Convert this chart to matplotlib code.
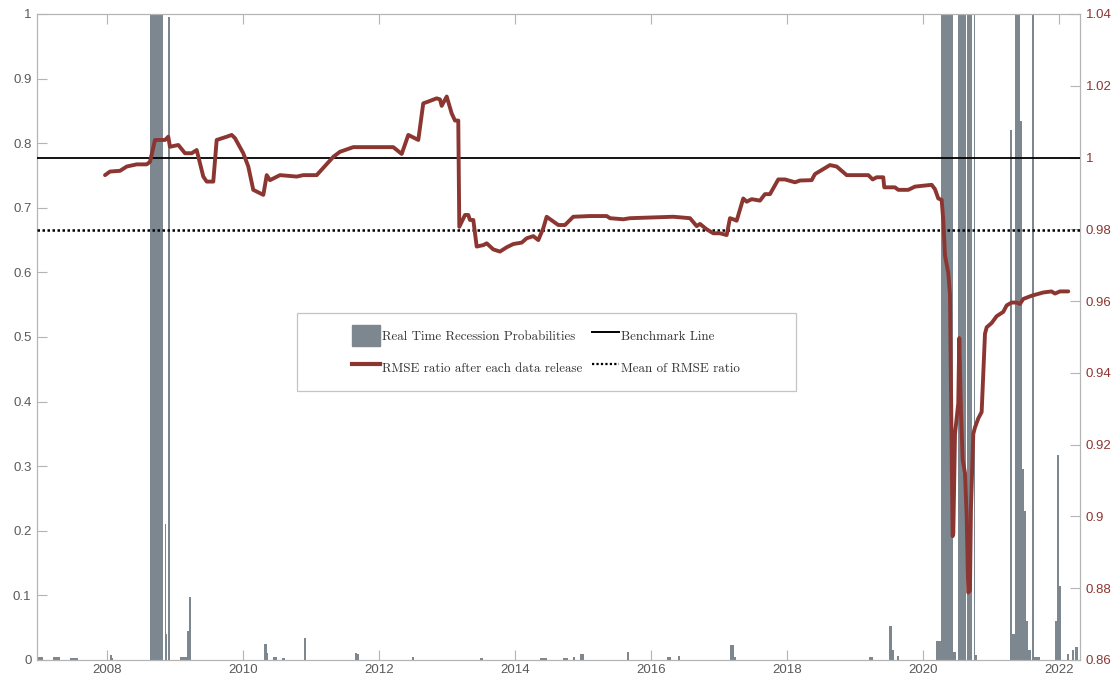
import matplotlib
matplotlib.use("Agg")
import matplotlib.pyplot as plt
from matplotlib.patches import Patch, Rectangle
from matplotlib.lines import Line2D
import numpy as np

# Real-time recession probabilities: each entry covers [start, end) with one probability
rec_start = [2006.97, 2007.20, 2007.46, 2008.05, 2008.07, 2008.63, 2008.77, 2008.85, 2008.87, 2008.89,
             2009.08, 2009.13, 2009.18, 2009.20, 2010.31, 2010.35, 2010.44, 2010.57, 2010.90, 2011.65,
             2011.68, 2012.48, 2013.49, 2014.37, 2014.71, 2014.85, 2014.96, 2015.65, 2016.24, 2016.40,
             2017.16, 2017.22, 2019.21, 2019.50, 2019.54, 2019.62, 2020.19, 2020.26, 2020.44, 2020.51,
             2020.65, 2020.745, 2020.77, 2021.28, 2021.31, 2021.35, 2021.39, 2021.43, 2021.46, 2021.49,
             2021.51, 2021.54, 2021.60, 2021.64, 2021.94, 2021.97, 2022.00, 2022.12, 2022.19, 2022.24]
rec_end = [2007.06, 2007.31, 2007.57, 2008.07, 2008.09, 2008.76, 2008.83, 2008.87, 2008.88, 2008.92,
           2009.13, 2009.18, 2009.20, 2009.23, 2010.35, 2010.37, 2010.50, 2010.62, 2010.93, 2011.68,
           2011.71, 2012.52, 2013.53, 2014.47, 2014.78, 2014.88, 2015.01, 2015.68, 2016.29, 2016.43,
           2017.22, 2017.25, 2019.26, 2019.54, 2019.57, 2019.65, 2020.26, 2020.44, 2020.49, 2020.64,
           2020.72, 2020.765, 2020.80, 2021.31, 2021.35, 2021.385, 2021.42, 2021.46, 2021.49, 2021.51,
           2021.54, 2021.59, 2021.63, 2021.72, 2021.97, 2022.00, 2022.03, 2022.15, 2022.22, 2022.28]
rec_prob = [0.005, 0.004, 0.003, 0.007, 0.003, 1.0, 1.0, 0.21, 0.04, 0.995,
            0.005, 0.004, 0.045, 0.098, 0.025, 0.011, 0.004, 0.003, 0.034, 0.011,
            0.009, 0.004, 0.003, 0.003, 0.003, 0.005, 0.009, 0.013, 0.004, 0.006,
            0.023, 0.005, 0.004, 0.053, 0.016, 0.006, 0.03, 1.0, 0.012, 1.0,
            1.0, 1.0, 0.008, 0.82, 0.04, 1.0, 1.0, 0.835, 0.295, 0.23,
            0.06, 0.015, 1.0, 0.005, 0.06, 0.317, 0.114, 0.01, 0.015, 0.02]

# RMSE ratio after each data release
rmse_date = [2007.971, 2008.044, 2008.191, 2008.290, 2008.437, 2008.584, 2008.632, 2008.706, 2008.804, 2008.853,
             2008.901, 2008.926, 2009.049, 2009.147, 2009.246, 2009.319, 2009.368, 2009.416, 2009.466, 2009.563,
             2009.613, 2009.760, 2009.834, 2009.882, 2010.004, 2010.078, 2010.151, 2010.299, 2010.349, 2010.397,
             2010.544, 2010.790, 2010.887, 2011.084, 2011.328, 2011.426, 2011.622, 2012.210, 2012.334, 2012.431,
             2012.578, 2012.651, 2012.725, 2012.849, 2012.897, 2012.922, 2012.996, 2013.069, 2013.118, 2013.166,
             2013.181, 2013.265, 2013.313, 2013.338, 2013.387, 2013.437, 2013.534, 2013.584, 2013.681, 2013.779,
             2013.878, 2013.975, 2014.099, 2014.172, 2014.269, 2014.343, 2014.416, 2014.466, 2014.637, 2014.735,
             2014.857, 2015.103, 2015.349, 2015.397, 2015.593, 2015.691, 2016.328, 2016.574, 2016.672, 2016.721,
             2016.819, 2016.916, 2017.015, 2017.113, 2017.162, 2017.210, 2017.260, 2017.357, 2017.407, 2017.481,
             2017.603, 2017.676, 2017.750, 2017.872, 2017.971, 2018.118, 2018.191, 2018.363, 2018.412, 2018.510,
             2018.632, 2018.731, 2018.878, 2019.196, 2019.260, 2019.319, 2019.416, 2019.431, 2019.588, 2019.637,
             2019.784, 2019.882, 2020.128, 2020.176, 2020.225, 2020.275, 2020.299, 2020.324, 2020.372, 2020.397,
             2020.436, 2020.446, 2020.471, 2020.519, 2020.534, 2020.559, 2020.584, 2020.618, 2020.643, 2020.666,
             2020.691, 2020.706, 2020.740, 2020.765, 2020.813, 2020.863, 2020.912, 2020.937, 2021.010, 2021.084,
             2021.181, 2021.231, 2021.304, 2021.378, 2021.426, 2021.475, 2021.599, 2021.769, 2021.891, 2021.941,
             2022.015, 2022.137]
rmse_ratio = [0.9951, 0.9961, 0.9963, 0.9975, 0.9981, 0.9981, 0.9988, 1.0049, 1.0049, 1.0049,
              1.0058, 1.0030, 1.0035, 1.0012, 1.0012, 1.0021, 0.9984, 0.9947, 0.9933, 0.9933,
              1.0049, 1.0058, 1.0063, 1.0054, 1.0012, 0.9975, 0.9910, 0.9896, 0.9951, 0.9937,
              0.9951, 0.9947, 0.9951, 0.9951, 1.0002, 1.0016, 1.0029, 1.0029, 1.0010, 1.0063,
              1.0049, 1.0151, 1.0156, 1.0165, 1.0162, 1.0144, 1.0170, 1.0123, 1.0103, 1.0103,
              0.9807, 0.9840, 0.9840, 0.9826, 0.9826, 0.9752, 0.9756, 0.9761, 0.9744, 0.9738,
              0.9750, 0.9759, 0.9763, 0.9775, 0.9781, 0.9770, 0.9803, 0.9835, 0.9812, 0.9812,
              0.9835, 0.9837, 0.9837, 0.9831, 0.9828, 0.9831, 0.9835, 0.9831, 0.9809, 0.9815,
              0.9800, 0.9789, 0.9789, 0.9784, 0.9831, 0.9828, 0.9824, 0.9886, 0.9877, 0.9884,
              0.9880, 0.9898, 0.9898, 0.9939, 0.9939, 0.9931, 0.9936, 0.9937, 0.9954, 0.9965,
              0.9979, 0.9975, 0.9951, 0.9951, 0.9939, 0.9945, 0.9945, 0.9917, 0.9917, 0.9910,
              0.9910, 0.9919, 0.9924, 0.9912, 0.9886, 0.9882, 0.9824, 0.9727, 0.9679, 0.9618,
              0.8945, 0.8952, 0.9230, 0.9315, 0.9497, 0.9291, 0.9158, 0.9121, 0.9000, 0.8788,
              0.8794, 0.9024, 0.9230, 0.9248, 0.9273, 0.9291, 0.9509, 0.9527, 0.9539, 0.9558,
              0.9570, 0.9588, 0.9596, 0.9596, 0.9592, 0.9606, 0.9615, 0.9624, 0.9627, 0.9621,
              0.9627, 0.9627]

benchmark = 1.0
mean_rmse = 0.9798

year_ticks = [2008, 2010, 2012, 2014, 2016, 2018, 2020, 2022]
left_ticks = [0, 0.1, 0.2, 0.3, 0.4, 0.5, 0.6, 0.7, 0.8, 0.9, 1]
right_ticks = [0.86, 0.88, 0.9, 0.92, 0.94, 0.96, 0.98, 1, 1.02, 1.04]

legend_labels = ["Real Time Recession Probabilities", "RMSE ratio after each data release",
                 "Benchmark Line", "Mean of RMSE ratio"]

BAR = "#7d8790"
RED = "#8c3632"
AXC = "#b4b4b4"
TXT = "#5a5a5a"

plt.rcParams["font.family"] = ["Liberation Sans", "DejaVu Sans"]

fig = plt.figure(figsize=(11.12, 6.79), dpi=100)
ax = fig.add_axes([0.0333, 0.028, 0.9379, 0.9514])

starts = np.array(rec_start)
ends = np.array(rec_end)
ax.bar(starts, rec_prob, width=ends - starts, align="edge", color=BAR, linewidth=0, zorder=2)

ax.set_xlim(2006.971, 2022.309)
ax.set_ylim(0, 1)
ax.set_xticks(year_ticks)
ax.set_xticklabels([str(y) for y in year_ticks])
ax.set_yticks(left_ticks)
ax.set_yticklabels(["0", "0.1", "0.2", "0.3", "0.4", "0.5", "0.6", "0.7", "0.8", "0.9", "1"])
ax.tick_params(axis="both", direction="in", length=7, width=0.8, color=AXC,
               labelsize=9.5, labelcolor=TXT, top=True, pad=4)
ax.tick_params(axis="x", pad=3)
for s in ax.spines.values():
    s.set_color(AXC)
    s.set_linewidth(0.8)

ax2 = ax.twinx()
ax2.set_ylim(0.86, 1.04)
ax2.set_yticks(right_ticks)
ax2.set_yticklabels(["0.86", "0.88", "0.9", "0.92", "0.94", "0.96", "0.98", "1", "1.02", "1.04"])
ax2.tick_params(axis="y", direction="in", length=7, width=0.8, color=AXC,
                labelsize=9.5, labelcolor=RED, pad=4)
for s in ax2.spines.values():
    s.set_color(AXC)
    s.set_linewidth(0.8)

ax2.axhline(benchmark, color="black", linewidth=1.3, zorder=3)
ax2.axhline(mean_rmse, color="black", linewidth=1.8, linestyle=(0, (1, 1)), zorder=3)
ax2.plot(rmse_date, rmse_ratio, color=RED, linewidth=2.8, solid_joinstyle="round",
         solid_capstyle="round", zorder=4)

# legend frame
ax2.add_patch(Rectangle((0.2493, 0.4164), 0.4784, 0.1208, transform=ax2.transAxes,
                        facecolor="white", edgecolor="#c4c4c4", linewidth=0.9, zorder=5))

handles = [Patch(facecolor=BAR, edgecolor=BAR),
           Line2D([], [], color=RED, linewidth=3.0),
           Line2D([], [], color="black", linewidth=1.4),
           Line2D([], [], color="black", linewidth=1.6, linestyle=(0, (1, 1)))]
leg = ax2.legend(handles, [legend_labels[0], legend_labels[1], legend_labels[2], legend_labels[3]],
                 ncol=2, loc="center", bbox_to_anchor=(0.488, 0.4776), frameon=False,
                 prop={"family": "cmr10", "size": 9.35}, handlelength=2.15, handleheight=2.1,
                 handletextpad=0.15, columnspacing=0.75, labelspacing=0.85, borderpad=0)
leg.set_zorder(6)
for t in leg.get_texts():
    t.set_color("#333333")

fig.savefig("out.png", dpi=100)
